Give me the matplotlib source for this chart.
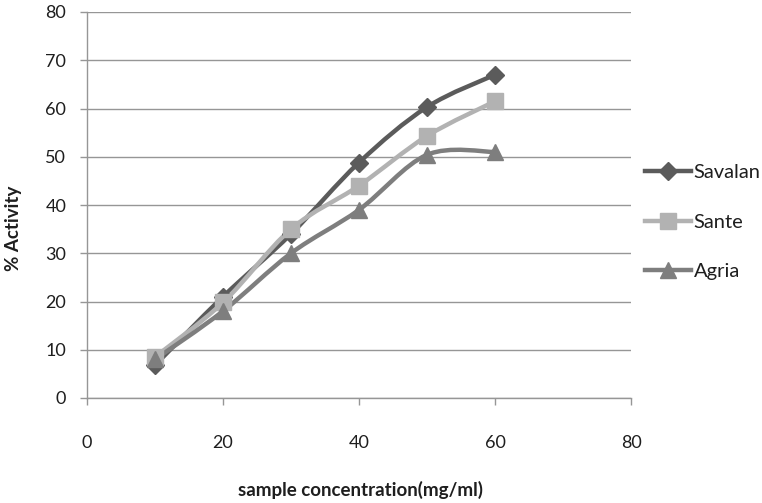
import matplotlib
matplotlib.use("Agg")
import matplotlib.pyplot as plt
from matplotlib.path import Path
from matplotlib.patches import PathPatch
from matplotlib.lines import Line2D
import numpy as np

# ── data ───────────────────────────────────────────────────────────────────
concentration = [10, 20, 30, 40, 50, 60]
savalan = [6.8, 21.0, 34.0, 48.8, 60.3, 67.0]
sante = [8.5, 19.8, 35.0, 44.0, 54.3, 61.5]
agria = [8.0, 18.0, 30.0, 39.0, 50.4, 51.0]

x_ticks = [0, 20, 40, 60, 80]
y_ticks = [0, 10, 20, 30, 40, 50, 60, 70, 80]

C_GRID = "#969696"
C_TEXT = "#1e1e1e"
series = [
    ("Savalan", savalan, "#5b5b5b", "D", 9),
    ("Sante", sante, "#b2b2b2", "s", 11),
    ("Agria", agria, "#7e7e7e", "^", 11),
]

FONT = ["Lato", "DejaVu Sans"]


def smooth_path(xs, ys):
    # Excel-style smoothed line: cubic Bezier through the data points
    pts = np.column_stack([xs, ys]).astype(float)
    verts = [pts[0]]
    codes = [Path.MOVETO]
    n = len(pts)
    for i in range(n - 1):
        p0 = pts[i - 1] if i > 0 else pts[i]
        p1, p2 = pts[i], pts[i + 1]
        p3 = pts[i + 2] if i + 2 < n else pts[i + 1]
        c1 = p1 + (p2 - p0) / 6.0
        c2 = p2 - (p3 - p1) / 6.0
        verts += [c1, c2, p2]
        codes += [Path.CURVE4] * 3
    return Path(verts, codes)


fig = plt.figure(figsize=(7.62, 5.03), dpi=100)
ax = fig.add_axes([87 / 762, 1 - 398 / 503, (631 - 87) / 762, (398 - 12) / 503])

ax.set_xlim(0, 80)
ax.set_ylim(0, 80)
ax.set_xticks(x_ticks)
ax.set_yticks(y_ticks)
ax.yaxis.grid(True, color=C_GRID, linewidth=1.0)
ax.set_axisbelow(True)

for sp in ("top", "right"):
    ax.spines[sp].set_visible(False)
for sp in ("left", "bottom"):
    ax.spines[sp].set_color(C_GRID)
    ax.spines[sp].set_linewidth(1.0)

ax.tick_params(axis="both", colors=C_GRID, length=5, width=1.0,
               labelcolor=C_TEXT, labelsize=13)
ax.tick_params(axis="x", pad=22)
ax.tick_params(axis="y", pad=10)
for lab in ax.get_xticklabels() + ax.get_yticklabels():
    lab.set_family(FONT)

handles = []
for name, vals, color, marker, ms in series:
    patch = PathPatch(smooth_path(concentration, vals), facecolor="none",
                      edgecolor=color, linewidth=3.2, capstyle="round",
                      joinstyle="round", zorder=3)
    ax.add_patch(patch)
    ax.plot(concentration, vals, linestyle="none", marker=marker,
            markersize=ms, color=color, zorder=4, clip_on=False)
    handles.append(Line2D([], [], color=color, linewidth=3.2,
                          marker=marker, markersize=ms, label=name))

leg = fig.legend(handles=handles, loc="center left",
                 bbox_to_anchor=(627 / 762, 1 - 222 / 503),
                 frameon=False, handlelength=2.3,
                 handletextpad=0.1, labelspacing=1.6,
                 prop={"family": FONT, "size": 14.5})
for t in leg.get_texts():
    t.set_color(C_TEXT)

fig.text(360 / 762, 1 - 490 / 503, "sample concentration(mg/ml)",
         ha="center", va="center", fontsize=13.5, fontweight="bold",
         color=C_TEXT, family=FONT)
fig.text(13 / 762, 1 - 228 / 503, "% Activity", rotation=90,
         ha="center", va="center", fontsize=13.5, fontweight="bold",
         color=C_TEXT, family=FONT)

fig.savefig("out.png", dpi=100)
